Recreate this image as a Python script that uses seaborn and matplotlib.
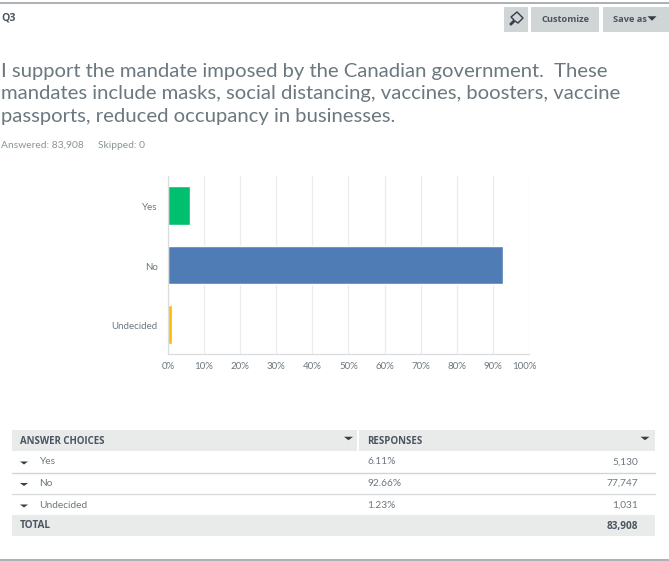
import matplotlib
matplotlib.use("Agg")
import matplotlib.pyplot as plt
from matplotlib.patches import Rectangle, Polygon
from matplotlib.lines import Line2D
from matplotlib.transforms import ScaledTranslation
import seaborn as sns
import pandas as pd

categories = ["Yes", "No", "Undecided"]
percent_values = [6.11, 92.66, 1.23]
percent_labels = ["6.11%", "92.66%", "1.23%"]
response_labels = ["5,130", "77,747", "1,031"]
total_label = "83,908"
bar_colors = ["#00BF6F", "#507CB6", "#FFB800"]
tick_values = list(range(0, 101, 10))
tick_labels = [f"{v}%" for v in tick_values]
title_lines = [
    "I support the mandate imposed by the Canadian government.  These",
    "mandates include masks, social distancing, vaccines, boosters, vaccine",
    "passports, reduced occupancy in businesses.",
]

W, H = 669, 561
sns.set_theme(style="white")
plt.rcParams["font.family"] = ["Lato", "DejaVu Sans"]
fig = plt.figure(figsize=(W / 100, H / 100), dpi=100, facecolor="white")

def fx(x): return x / W
def fy(y): return 1 - y / H
def rect(x0, y0, x1, y1, color):
    fig.add_artist(Rectangle((fx(x0), fy(y1)), (x1 - x0) / W, (y1 - y0) / H,
                             transform=fig.transFigure, fc=color, ec="none", zorder=0))
def hline(x0, x1, y, color, lw=1.0):
    fig.add_artist(Line2D([fx(x0), fx(x1)], [fy(y), fy(y)], transform=fig.transFigure,
                          color=color, lw=lw, zorder=1))
def text(x, y, s, size, color, ha="left", weight="normal", family="Lato"):
    fig.text(fx(x), fy(y), s, fontsize=size, color=color, ha=ha, va="center",
             fontweight=weight, family=family)
def bold(x, y, s, size, ha="left"):
    text(x, y, s, size, "#4a5560", ha=ha, weight="bold", family="Open Sans")
def arrow(x, y, w=5, h=3.5, color="#333e48"):
    fig.add_artist(Polygon([[fx(x - w), fy(y - h / 2)], [fx(x + w), fy(y - h / 2)], [fx(x), fy(y + h / 2)]],
                           transform=fig.transFigure, fc=color, ec="none", zorder=3))

# Frame rules
hline(0, W, 2.5, "#a0a3a5", 1.2)
hline(0, W, 560, "#a0a3a5", 1.2)

# Header
bold(1, 18.5, "Q3", 7.6)
rect(504, 7, 528, 32, "#d0d5d6")
rect(531, 7, 599, 32, "#d0d5d6")
rect(603, 7, 669, 32, "#d0d5d6")
pin = [(510, 24), (514, 20), (511, 17), (517, 12), (523, 18), (518, 23), (515, 21), (511, 25)]
fig.add_artist(Polygon([[fx(a), fy(b)] for a, b in pin], transform=fig.transFigure,
                       fc="none", ec="#333e48", lw=1.0, zorder=3))
bold(565, 19, "Customize", 6.7, ha="center")
bold(613, 19, "Save as", 6.7)
arrow(652, 18.5, w=4.5, h=4.5)

# Question title
for y, line in zip([71.5, 94, 116.5], title_lines):
    text(1, y, line, 14.6, "#6b787f")
text(1, 145.5, "Answered: 83,908", 7.4, "#8a9499")
text(98, 145.5, "Skipped: 0", 7.4, "#8a9499")

# Chart
ax = fig.add_axes([fx(168), fy(354), 361 / W, 178 / H])
df = pd.DataFrame({"answer": categories, "percent": percent_values})
sns.barplot(data=df, y="answer", x="percent", hue="answer", palette=bar_colors,
            legend=False, width=0.65, ax=ax, saturation=1)
ax.set_xlim(0, 100)
ax.set_ylim(2.5, -0.5)
ax.set_xticks(tick_values, tick_labels)
ax.set_xlabel("")
ax.set_ylabel("")
ax.grid(axis="x", color="#ececec", lw=0.9)
ax.grid(axis="y", visible=False)
ax.set_axisbelow(True)
for s in ["top", "right"]:
    ax.spines[s].set_visible(False)
for s in ["left", "bottom"]:
    ax.spines[s].set_color("#dadcdd")
    ax.spines[s].set_linewidth(0.9)
ax.tick_params(axis="both", length=0, labelsize=7, labelcolor="#6b787f")
ax.tick_params(axis="x", pad=5.5)
ax.tick_params(axis="y", pad=7.5)
# Nudge labels to sit where the reference places them
last = ax.get_xticklabels()[-1]
last.set_transform(last.get_transform() + ScaledTranslation(-5 / 100, 0, fig.dpi_scale_trans))
for lab in ax.get_yticklabels():
    lab.set_transform(lab.get_transform() + ScaledTranslation(0, -1 / 100, fig.dpi_scale_trans))

# Table
L, M, R = 12, 359, 655
rect(L, 430, 356.5, 451, "#e9eaea")
rect(M, 430, R, 451, "#e9eaea")
rect(L, 515, R, 536, "#e9eaea")
hline(L, R, 472.5, "#cfd6d6")
hline(L, R, 494, "#d8dcdc")
bold(20, 441, "ANSWER CHOICES", 6.9)
bold(367, 441, "RESPONSES", 7.0)
arrow(348.5, 438.5, w=4.5, h=3.5)
arrow(645, 438.5, w=4.5, h=3.5)
for y, c, p, r in zip([462, 483.5, 505], categories, percent_labels, response_labels):
    arrow(24, y + 1, w=4, h=3)
    text(39, y, c, 7.3, "#6b787f")
    text(367, y, p, 7.3, "#6b787f")
    text(638, y, r, 7.3, "#6b787f", ha="right")
bold(20, 526, "TOTAL", 7.2)
bold(638, 526, total_label, 7.2, ha="right")

fig.savefig("out.png", dpi=100)
